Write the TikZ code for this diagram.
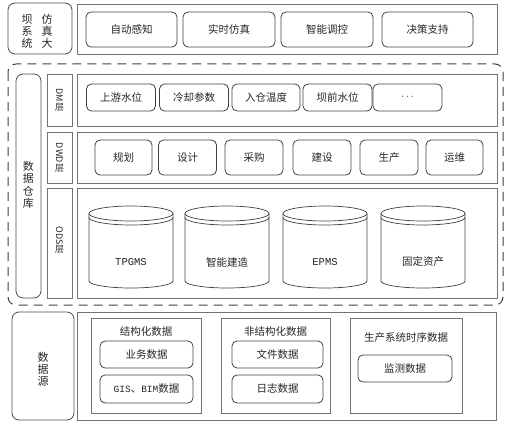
\documentclass[tikz,border=0pt]{standalone}
\usepackage{fontspec}
\setmainfont{Noto Sans CJK SC}
\newfontfamily\latinmono{Liberation Mono}

\begin{document}
\begin{tikzpicture}[x=1pt,y=-1pt,
  every node/.style={font=\fontsize{10.5}{12}\selectfont,text=black!85},
  frame/.style={draw=black!55,line width=0.8pt},
  itembox/.style={draw=black!75,rounded corners=5pt,line width=0.8pt,inner sep=0pt},
  sidebox/.style={draw=black!70,rounded corners=7pt,line width=0.8pt},
  vtext/.style={align=center,inner sep=0pt},
  drum/.style={draw=black!75,line width=0.7pt}]
\useasboundingbox (0,0) rectangle (519,436);

% top: simulation
\draw[sidebox] (8,3) rectangle (72,54);
\node[vtext,font=\fontsize{11}{12}\selectfont] (sim-l) at (27,31) {坝\\系\\统};
\node[vtext,font=\fontsize{11}{12}\selectfont] (sim-r) at (47,31) {仿\\真\\大};
\draw[frame] (77,4) rectangle (497,54);
\node[itembox,minimum width=91,minimum height=35] (zdgz) at (131.5,29.5) {自动感知};
\node[itembox,minimum width=92,minimum height=35] (sssf) at (229,29.5) {实时仿真};
\node[itembox,minimum width=92,minimum height=35] (zntk) at (327,29.5) {智能调控};
\node[itembox,minimum width=91,minimum height=35] (jczc) at (427.5,29.5) {决策支持};

% data warehouse
\draw[draw=black!75,line width=1pt,dash pattern=on 9pt off 6pt,rounded corners=8pt] (8,64) rectangle (503,305);
\draw[sidebox] (16,74) rectangle (41,298);
\node[vtext,font=\fontsize{11}{12.5}\selectfont] (sjck) at (28.5,185) {数\\据\\仓\\库};
\draw[frame] (47,74) rectangle (72,126);
\draw[frame] (47,132) rectangle (72,183);
\draw[frame] (47,188) rectangle (72,298);
\node[vtext,font=\fontsize{9}{10}\selectfont] (lbl-dm) at (59.5,100) {\rotatebox{-90}{DM}\\层};
\node[vtext,font=\fontsize{9}{10}\selectfont] (lbl-dwd) at (59.5,157.5) {\rotatebox{-90}{DWD}\\层};
\node[vtext,font=\fontsize{9}{10}\selectfont] (lbl-ods) at (59.5,240) {\rotatebox{-90}{ODS}\\层};
\draw[frame] (77,74) rectangle (497,126);
\draw[frame] (77,132) rectangle (497,183);
\draw[frame] (77,188) rectangle (497,298);

% DM layer
\node[itembox,minimum width=69,minimum height=27] (sysw) at (121,97.5) {上游水位};
\node[itembox,minimum width=69,minimum height=27] (lqcs) at (194,97.5) {冷却参数};
\node[itembox,minimum width=68,minimum height=27] (rcwd) at (266,97.5) {入仓温度};
\node[itembox,minimum width=69,minimum height=27] (bqsw) at (337.5,97.5) {坝前水位};
\node[itembox,minimum width=69,minimum height=27] (more) at (407.5,97.5) {$\cdots$};

% DWD layer
\node[itembox,minimum width=57,minimum height=35] (gh) at (123.5,157.5) {规划};
\node[itembox,minimum width=58,minimum height=35] (sj) at (187.5,157.5) {设计};
\node[itembox,minimum width=58,minimum height=35] (cg) at (254,157.5) {采购};
\node[itembox,minimum width=58,minimum height=35] (js) at (322,157.5) {建设};
\node[itembox,minimum width=58,minimum height=35] (sc) at (389,157.5) {生产};
\node[itembox,minimum width=57,minimum height=35] (yw) at (454.5,157.5) {运维};

% ODS layer
\foreach \cx/\txt/\nm in {131/{\latinmono TPGMS}/tpgms,227/智能建造/znjz,325/{\latinmono EPMS}/epms,423/固定资产/gdzc}{
  \draw[drum] (\cx-42,213.5) -- (\cx-42,281) arc[start angle=180,end angle=360,x radius=42pt,y radius=7pt] -- (\cx+42,213.5);
  \draw[drum] (\cx,213.5) ellipse[x radius=42pt,y radius=7.5pt];
  \draw[drum] (\cx-42,217.5) arc[start angle=180,end angle=360,x radius=42pt,y radius=7.5pt];
  \node (db-\nm) at (\cx,262) {\txt};
}

% data source
\draw[sidebox] (12,312) rectangle (74,420);
\node[vtext,font=\fontsize{11}{12}\selectfont] (sjy) at (43,369) {数\\据\\源};
\draw[frame] (77,312) rectangle (496,420);
\draw[frame] (91,318) rectangle (201,413);
\draw[frame] (221,318) rectangle (330,413);
\draw[frame] (350,318) rectangle (462,413);
\node (jgh) at (146,332) {结构化数据};
\node (fjgh) at (275.5,332) {非结构化数据};
\node (scsx) at (406,338) {生产系统时序数据};
\node[itembox,minimum width=93,minimum height=27] (ywsj) at (146.5,354.5) {业务数据};
\node[itembox,minimum width=93,minimum height=28] (gis) at (146.5,389) {{\latinmono\fontsize{9.5}{11}\selectfont GIS}、{\latinmono\fontsize{9.5}{11}\selectfont BIM}数据};
\node[itembox,minimum width=91,minimum height=27] (wjsj) at (277.5,354.5) {文件数据};
\node[itembox,minimum width=91,minimum height=28] (rzsj) at (277.5,389) {日志数据};
\node[itembox,minimum width=94,minimum height=27] (jcsj) at (405,368.5) {监测数据};
\end{tikzpicture}
\end{document}
